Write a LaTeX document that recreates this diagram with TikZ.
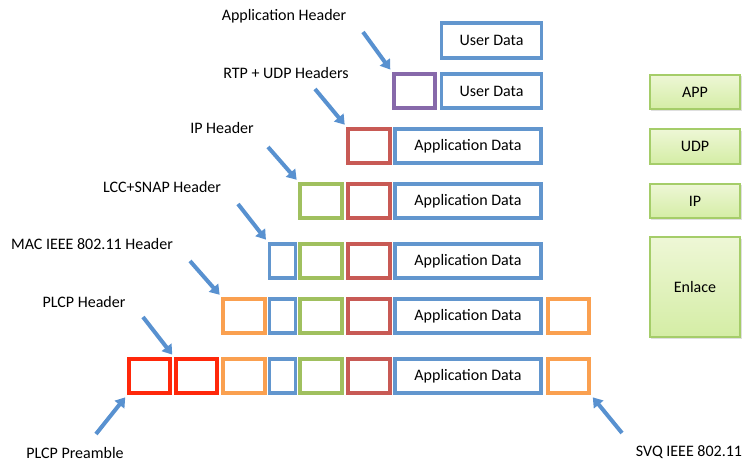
\documentclass[tikz,border=0pt]{standalone}
\usepackage{fontspec}
\setmainfont{Carlito}
\usetikzlibrary{arrows.meta,shadows}

\definecolor{hdrblue}{RGB}{98,150,206}
\definecolor{hdrpurple}{RGB}{135,105,170}
\definecolor{hdrred}{RGB}{200,90,85}
\definecolor{hdrgreen}{RGB}{160,192,95}
\definecolor{hdrorange}{RGB}{250,160,80}
\definecolor{prered}{RGB}{255,40,10}
\definecolor{arrblue}{RGB}{88,145,208}
\definecolor{layerline}{RGB}{165,205,105}

\tikzset{
  box/.style={draw, fill=white, line width=2.9pt, minimum height=26pt, inner sep=0pt,
    font=\fontsize{12}{14}\selectfont,
    drop shadow={shadow xshift=1.2pt, shadow yshift=-1.2pt, opacity=0.25}},
  sq/.style={box, minimum width=31pt},
  narrow/.style={box, minimum width=19.5pt},
  appdata/.style={box, draw=hdrblue, minimum width=110pt},
  userdata/.style={box, draw=hdrblue, minimum width=75pt},
  layer/.style={draw=layerline, line width=1.3pt, top color={rgb,255:red,238;green,247;blue,214},
    bottom color={rgb,255:red,212;green,237;blue,165}, minimum width=68pt, inner sep=0pt,
    font=\fontsize{12}{14}\selectfont,
    drop shadow={shadow xshift=1.2pt, shadow yshift=-1.2pt, opacity=0.25}},
  lbl/.style={font=\fontsize{12}{14}\selectfont, inner sep=0pt},
  hdrarrow/.style={draw=arrblue, line width=3pt, -{Triangle[length=7pt,width=9pt]}, shorten >=2pt}
}

\begin{document}
\begin{tikzpicture}[x=0.75pt, y=-0.75pt]
  \useasboundingbox (0,0) rectangle (742,464);

  %row 1
  \node[userdata] (r1data) at (491.5,40.5) {User Data};
  %row 2
  \node[sq, draw=hdrpurple] (r2app) at (414.5,91) {};
  \node[userdata] (r2data) at (491.5,91) {User Data};
  %row 3
  \node[sq, draw=hdrred] (r3rtp) at (369,146) {};
  \node[appdata] (r3data) at (468,146) {Application Data};
  %row 4
  \node[sq, draw=hdrgreen] (r4ip) at (321,201) {};
  \node[sq, draw=hdrred] (r4rtp) at (369,201) {};
  \node[appdata] (r4data) at (468,201) {Application Data};
  %row 5
  \node[narrow, draw=hdrblue] (r5llc) at (282.5,261) {};
  \node[sq, draw=hdrgreen] (r5ip) at (321,261) {};
  \node[sq, draw=hdrred] (r5rtp) at (369,261) {};
  \node[appdata] (r5data) at (468,261) {Application Data};
  %row 6
  \node[sq, draw=hdrorange] (r6mac) at (244,316) {};
  \node[narrow, draw=hdrblue] (r6llc) at (282.5,316) {};
  \node[sq, draw=hdrgreen] (r6ip) at (321,316) {};
  \node[sq, draw=hdrred] (r6rtp) at (369,316) {};
  \node[appdata] (r6data) at (468,316) {Application Data};
  \node[sq, draw=hdrorange] (r6fcs) at (568.5,316) {};
  %row 7
  \node[sq, draw=prered] (r7pre) at (149.5,376) {};
  \node[sq, draw=prered] (r7plcp) at (196.5,376) {};
  \node[sq, draw=hdrorange] (r7mac) at (244,376) {};
  \node[narrow, draw=hdrblue] (r7llc) at (282.5,376) {};
  \node[sq, draw=hdrgreen] (r7ip) at (321,376) {};
  \node[sq, draw=hdrred] (r7rtp) at (369,376) {};
  \node[appdata] (r7data) at (468,376) {Application Data};
  \node[sq, draw=hdrorange] (r7fcs) at (568.5,376) {};

  %layers
  \node[layer, minimum height=26pt] (app) at (695,92) {APP};
  \node[layer, minimum height=26pt] (udp) at (695,146.5) {UDP};
  \node[layer, minimum height=26pt] (ip) at (695,201) {IP};
  \node[layer, minimum height=75pt] (enlace) at (695,287) {Enlace};

  %labels
  \node[lbl] (lblApp) at (284,16) {Application Header};
  \node[lbl] (lblRtp) at (286,73) {RTP + UDP Headers};
  \node[lbl] (lblIp) at (222,128) {IP Header};
  \node[lbl] (lblLlc) at (162,187) {LCC+SNAP Header};
  \node[lbl] (lblMac) at (92,244) {MAC IEEE 802.11 Header};
  \node[lbl] (lblPlcp) at (84,302) {PLCP Header};
  \node[lbl] (lblPre) at (75,453) {PLCP Preamble};
  \node[lbl] (lblSvq) at (689,452) {SVQ IEEE 802.11};

  %arrows
  \coordinate (tApp) at (363,32);
  \coordinate (tRtp) at (315,89);
  \coordinate (tIp) at (268,147);
  \coordinate (tLlc) at (238,204);
  \coordinate (tMac) at (190,261);
  \coordinate (tPlcp) at (143,317);
  \coordinate (tPre) at (96,434);
  \coordinate (tSvq) at (622,433);
  \draw[hdrarrow] (tApp) -- (r2app.north west);
  \draw[hdrarrow] (tRtp) -- (r3rtp.north west);
  \draw[hdrarrow] (tIp) -- (r4ip.north west);
  \draw[hdrarrow] (tLlc) -- (r5llc.north west);
  \draw[hdrarrow] (tMac) -- (r6mac.north west);
  \draw[hdrarrow] (tPlcp) -- (r7plcp.north west);
  \draw[hdrarrow] (tPre) -- (r7pre.south west);
  \draw[hdrarrow] (tSvq) -- (r7fcs.south east);

\end{tikzpicture}
\end{document}
